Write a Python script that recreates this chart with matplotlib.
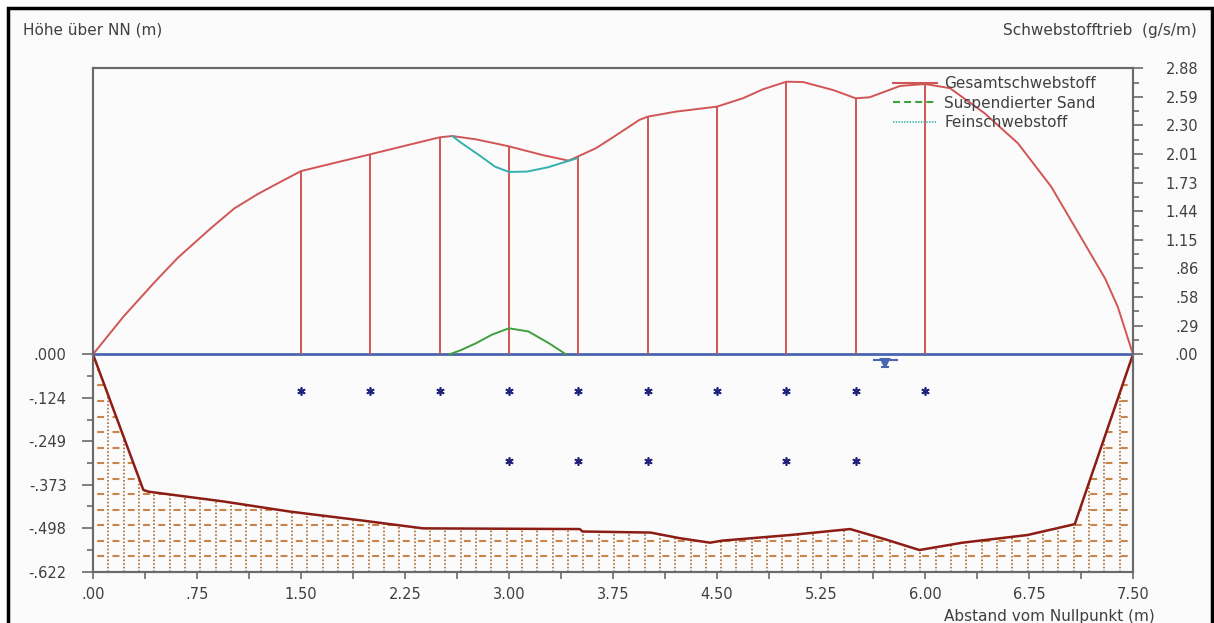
import matplotlib
matplotlib.use("Agg")
import matplotlib.pyplot as plt
import matplotlib.transforms as mtransforms
from matplotlib.patches import Polygon, Rectangle
from matplotlib.lines import Line2D
import numpy as np

plt.rcParams['font.family'] = ['DejaVu Sans']
plt.rcParams['lines.scale_dashes'] = False

# total suspended load curve (right axis, g/s/m)
total_x = [0, 0.22, 0.44, 0.61, 0.85, 1.02, 1.19, 1.33, 1.5, 1.75, 2.0, 2.25, 2.5, 2.59,
           2.76, 2.92, 3.0, 3.24, 3.43, 3.5, 3.625, 3.72, 3.94, 4.0, 4.2, 4.5, 4.69, 4.83,
           5.0, 5.12, 5.34, 5.5, 5.6, 5.82, 6.0, 6.18, 6.43, 6.67, 6.91, 7.15, 7.3, 7.39, 7.5]
total_y = [0, 0.38, 0.72, 0.97, 1.27, 1.47, 1.615, 1.72, 1.845, 1.93, 2.014, 2.10, 2.185, 2.198,
           2.165, 2.118, 2.094, 2.007, 1.95, 1.994, 2.074, 2.158, 2.36, 2.393, 2.443, 2.494, 2.58, 2.668,
           2.745, 2.742, 2.66, 2.578, 2.588, 2.702, 2.722, 2.68, 2.427, 2.125, 1.688, 1.118, 0.76, 0.479, 0]

# verticals at the measuring points
vert_x = [1.5, 2.0, 2.5, 3.0, 3.5, 4.0, 4.5, 5.0, 5.5, 6.0]
vert_h = [1.845, 2.014, 2.185, 2.094, 1.994, 2.393, 2.494, 2.745, 2.578, 2.722]

# suspended sand
sand_x = [2.57, 2.65, 2.76, 2.88, 3.0, 3.14, 3.29, 3.41]
sand_y = [0, 0.04, 0.11, 0.20, 0.262, 0.23, 0.11, 0.0]

# fine suspended matter
fine_x = [2.59, 2.66, 2.80, 2.90, 3.0, 3.13, 3.28, 3.49]
fine_y = [2.198, 2.125, 1.99, 1.889, 1.836, 1.84, 1.883, 1.974]

# river bed profile (left axis, m)
bed_x = [0, 0.363, 0.40, 0.94, 1.42, 1.91, 2.38, 3.51, 3.53, 4.02, 4.23, 4.45, 4.54, 5.03,
         5.46, 5.71, 5.96, 6.27, 6.74, 7.08, 7.5]
bed_y = [0, -0.388, -0.393, -0.421, -0.450, -0.474, -0.498, -0.500, -0.507, -0.510, -0.526,
         -0.539, -0.533, -0.517, -0.500, -0.529, -0.560, -0.539, -0.517, -0.486, 0]

# measuring points
pts_row1_x = [1.5, 2.0, 2.5, 3.0, 3.5, 4.0, 4.5, 5.0, 5.5, 6.0]
pts_row1_y = -0.105
pts_row2_x = [3.0, 3.5, 4.0, 5.0, 5.5]
pts_row2_y = -0.305

water_level = 0.0
water_mark_x = 5.71

x_ticks = [0, 0.75, 1.5, 2.25, 3.0, 3.75, 4.5, 5.25, 6.0, 6.75, 7.5]
x_labels = [".00", ".75", "1.50", "2.25", "3.00", "3.75", "4.50", "5.25", "6.00", "6.75", "7.50"]
left_ticks = [0, -0.1244, -0.2488, -0.3732, -0.4976, -0.622]
left_labels = [".000", "-.124", "-.249", "-.373", "-.498", "-.622"]
right_ticks = [0, 0.288, 0.576, 0.864, 1.152, 1.44, 1.728, 2.016, 2.304, 2.592, 2.88]
right_labels = [".00", ".29", ".58", ".86", "1.15", "1.44", "1.73", "2.01", "2.30", "2.59", "2.88"]

W, H = 1214, 623
red = '#d25555'
green = '#3fa03f'
cyan = '#33b0b0'
blue = '#4a64b0'
bedc = '#8c1c14'
textc = '#404040'
spinec = '#6a6a6a'

fig = plt.figure(figsize=(W / 100, H / 100), dpi=100, facecolor='white')
fig.patches.append(Rectangle((8 / W, -0.05), (1212 - 8) / W, 1.05 - 8 / H, transform=fig.transFigure,
                             facecolor='#fbfbfb', edgecolor='black', linewidth=2.5, zorder=-10))

ax_l, ax_r, ax_t, ax_b = 93, 1133, 68.3, 571.7
zero_px = 354.3
ax = fig.add_axes([ax_l / W, (H - ax_b) / H, (ax_r - ax_l) / W, (ax_b - ax_t) / H])
ax.set_facecolor('none')
ax.set_xlim(0, 7.5)
ax.set_ylim(left_ticks[-1], -left_ticks[-1] * (zero_px - ax_t) / (ax_b - zero_px))
ax2 = ax.twinx()
ax2.set_ylim(-right_ticks[-1] * (ax_b - zero_px) / (zero_px - ax_t), right_ticks[-1])

# ground hatch clipped to bed polygon
ground = Polygon(list(zip(bed_x + [7.5, 0], bed_y + [left_ticks[-1], left_ticks[-1]])),
                 closed=True, fill=False, edgecolor='none')
ax.add_patch(ground)
vx = np.arange(0.11, 7.5, 0.1105)
vl = ax.vlines(vx, left_ticks[-1], 0, colors='#a86a30', linewidth=1.2, linestyles=(0, (1.2, 1.4)))
vl.set_clip_path(ground)
hy = np.arange(left_ticks[-1] + 0.0444, 0, 0.0444)
hl = ax.hlines(hy, 0, 7.5, colors='#c8844a', linewidth=1.5, linestyles=(8, (5, 6)))
hl.set_clip_path(ground)
ax.plot(bed_x, bed_y, color=bedc, lw=1.8, zorder=3)

ax.axhline(water_level, color=blue, lw=2, zorder=4)
ax.plot(pts_row1_x, [pts_row1_y] * len(pts_row1_x), ls='none', marker=(6, 2, 0), ms=6, mew=1.2,
        color='#22227a')
ax.plot(pts_row2_x, [pts_row2_y] * len(pts_row2_x), ls='none', marker=(6, 2, 0), ms=6, mew=1.2,
        color='#22227a')

# water level symbol
for dy, mk, ms in [(-4, '_', 18), (-6, 'v', 6), (-9, '_', 6)]:
    tr = mtransforms.offset_copy(ax.transData, fig=fig, x=0, y=dy, units='points')
    ax.plot(water_mark_x, water_level, marker=mk, ms=ms, mew=1.5, color=blue, transform=tr,
            clip_on=False)

ax2.vlines(vert_x, 0, vert_h, colors=red, lw=1.4)
ax2.plot(total_x, total_y, color=red, lw=1.4)
ax2.plot(sand_x, sand_y, color=green, lw=1.4)
ax2.plot(fine_x, fine_y, color=cyan, lw=1.4)

# axes styling
for a in (ax, ax2):
    for s in a.spines.values():
        s.set_color(spinec)
        s.set_linewidth(1.5)

ax.set_xticks(x_ticks, x_labels)
ax.set_xticks(np.array(x_ticks[:-1]) + 0.375, minor=True)
ax.tick_params(axis='x', which='both', direction='out', length=5, width=1.2, color=spinec,
               labelsize=10.5, labelcolor=textc, pad=6)
ax.set_yticks(left_ticks, left_labels)
ax.set_yticks((np.array(left_ticks[:-1]) + np.array(left_ticks[1:])) / 2, minor=True)
ax.tick_params(axis='y', which='major', direction='out', length=8, width=1.2, color=spinec,
               labelsize=10.5, labelcolor=textc, pad=11)
ax.tick_params(axis='y', which='minor', direction='out', length=4, width=1.2, color=spinec)

ax2.set_yticks(right_ticks, right_labels)
ax2.set_yticks((np.array(right_ticks[:-1]) + np.array(right_ticks[1:])) / 2, minor=True)
ax2.tick_params(axis='y', which='major', direction='out', length=7, width=1.2, color=spinec,
                labelsize=10.5, labelcolor=textc, pad=40)
ax2.tick_params(axis='y', which='minor', direction='out', length=4, width=1.2, color=spinec)
for lab in ax2.get_yticklabels():
    lab.set_horizontalalignment('right')

handles = [Line2D([], [], color=red, lw=1.5),
           Line2D([], [], color=green, lw=1.5, ls=(0, (5, 3))),
           Line2D([], [], color=cyan, lw=1.2, ls=(0, (1, 1)))]
leg = ax2.legend(handles, ["Gesamtschwebstoff", "Suspendierter Sand", "Feinschwebstoff"],
                 loc='upper left', bbox_to_anchor=(893 / W, 1 - 76 / H), bbox_transform=fig.transFigure,
                 frameon=False, fontsize=11, handlelength=2.9, handletextpad=0.45,
                 labelspacing=0.3, borderpad=0, borderaxespad=0)
for t in leg.get_texts():
    t.set_color(textc)

fig.text(23 / W, 1 - 30 / H, "Höhe über NN (m)", ha='left', va='center', fontsize=11, color=textc)
fig.text(1197 / W, 1 - 31 / H, "Schwebstofftrieb  (g/s/m)", ha='right', va='center', fontsize=11,
         color=textc)
fig.text(1155 / W, 1 - 616 / H, "Abstand vom Nullpunkt (m)", ha='right', va='center', fontsize=11,
         color=textc)

fig.savefig("out.png", dpi=100, facecolor=fig.get_facecolor())
